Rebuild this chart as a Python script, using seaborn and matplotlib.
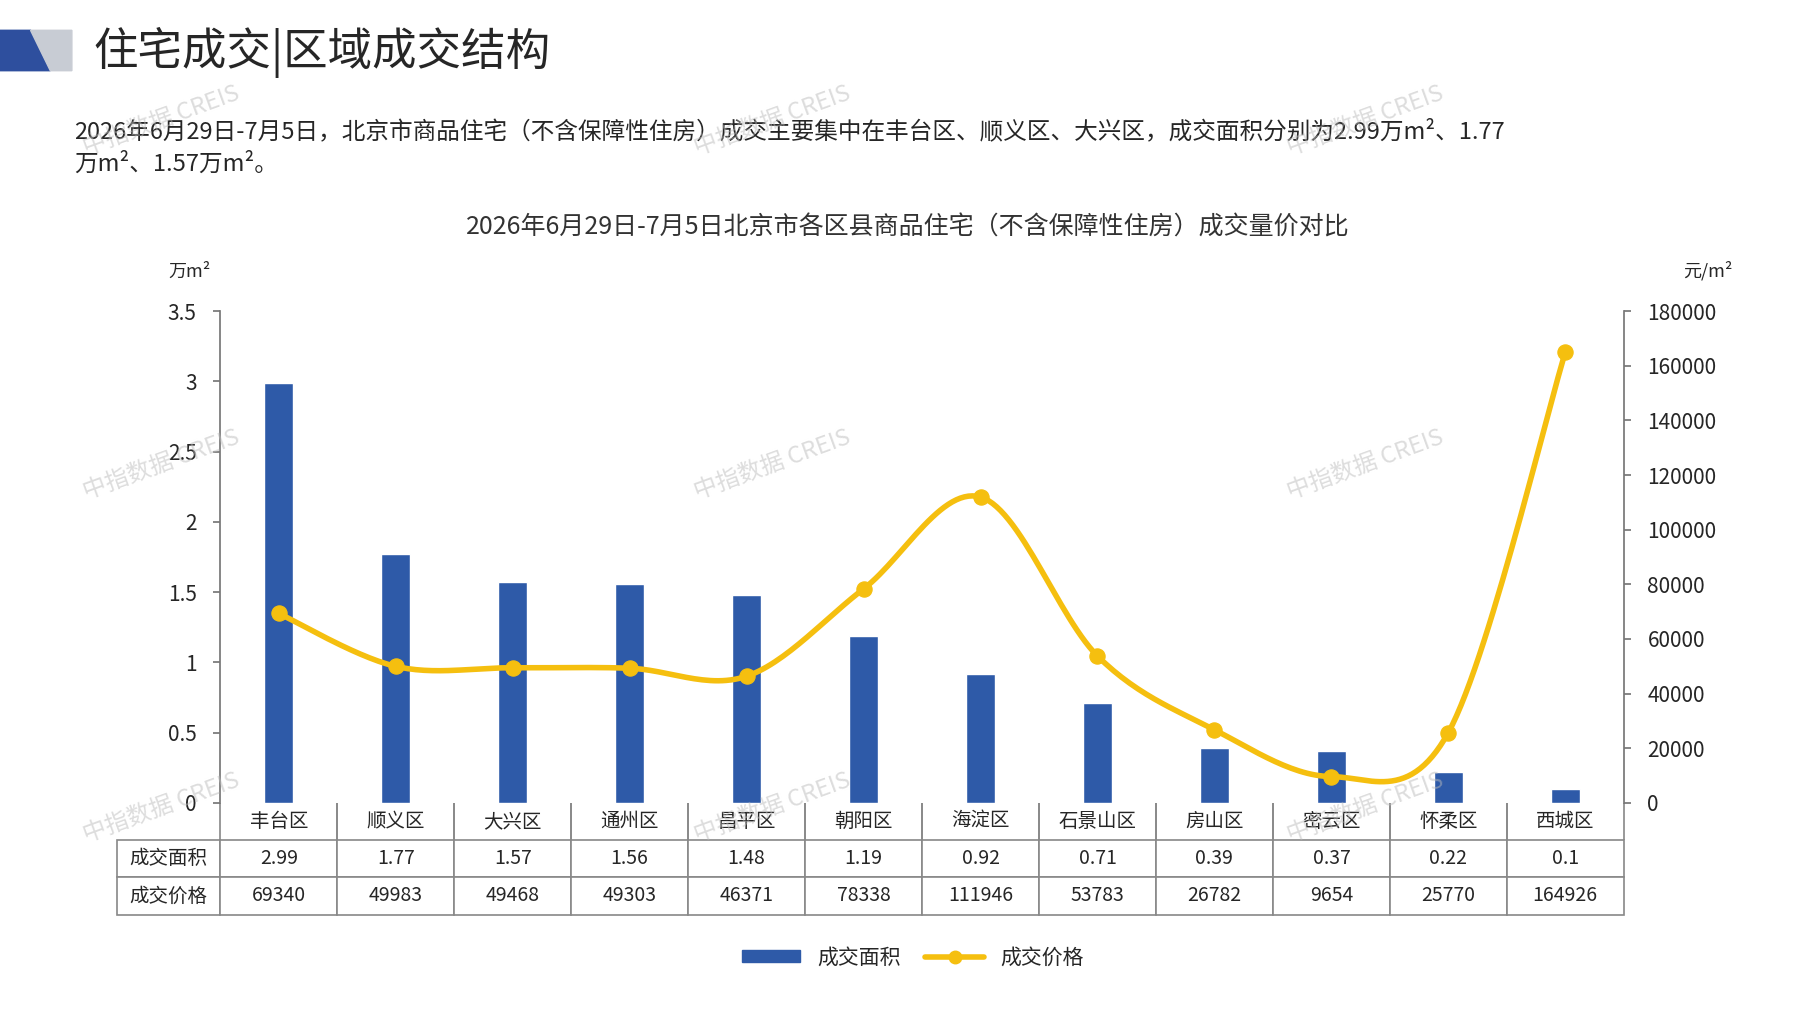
import numpy as np
import matplotlib
matplotlib.use("Agg")
import matplotlib.pyplot as plt
import seaborn as sns
from matplotlib.patches import Polygon
from matplotlib.lines import Line2D
from matplotlib.patches import Patch

districts = ['丰台区', '顺义区', '大兴区', '通州区', '昌平区', '朝阳区', '海淀区',
             '石景山区', '房山区', '密云区', '怀柔区', '西城区']
area = [2.99, 1.77, 1.57, 1.56, 1.48, 1.19, 0.92, 0.71, 0.39, 0.37, 0.22, 0.1]
area_labels = ['2.99', '1.77', '1.57', '1.56', '1.48', '1.19', '0.92', '0.71',
               '0.39', '0.37', '0.22', '0.1']
price = [69340, 49983, 49468, 49303, 46371, 78338, 111946, 53783, 26782, 9654, 25770, 164926]

sns.set_theme(style="white")
plt.rcParams['font.family'] = ['Noto Sans CJK SC', 'DejaVu Sans']

BLUE = '#2E5AA8'
GOLD = '#F5BF0F'

fig = plt.figure(figsize=(17.97, 10.10), dpi=100)
ax = fig.add_axes([0.1226, 0.205, 0.781, 0.487])

x = np.arange(len(districts))
sns.barplot(x=x, y=area, color=BLUE, width=0.25, ax=ax, saturation=1)
ax.set_ylim(0, 3.5)
ax.set_xlim(-0.5, len(districts) - 0.5)
ax.set_yticks([0, 0.5, 1, 1.5, 2, 2.5, 3, 3.5])
ax.set_yticklabels(['0', '0.5', '1', '1.5', '2', '2.5', '3', '3.5'], fontsize=15)
ax.set_xticks([])
ax.set_xlabel('')
for s in ['top', 'right', 'bottom']:
    ax.spines[s].set_visible(False)
ax.spines['left'].set_color('#777777')
ax.tick_params(axis='y', length=5, color='#777777', left=True, pad=12)

ax2 = ax.twinx()
# smooth curve through the data points (Catmull-Rom, like Excel smoothed line)
p = np.array(price, dtype=float)
xs, ys = [], []
pts = np.column_stack([x, p])
ext = np.vstack([pts[0], pts, pts[-1]])
for i in range(1, len(ext) - 2):
    p0, p1, p2, p3 = ext[i - 1], ext[i], ext[i + 1], ext[i + 2]
    t = np.linspace(0, 1, 30)[:, None]
    c = 0.5 * ((2 * p1) + (-p0 + p2) * t + (2 * p0 - 5 * p1 + 4 * p2 - p3) * t ** 2
               + (-p0 + 3 * p1 - 3 * p2 + p3) * t ** 3)
    xs.extend(c[:, 0]); ys.extend(c[:, 1])
sns.lineplot(x=xs, y=ys, color=GOLD, lw=4, ax=ax2, sort=False)
sns.scatterplot(x=x, y=p, color=GOLD, s=120, edgecolor=GOLD, ax=ax2, zorder=5)
ax2.set_ylim(0, 180000)
ax2.set_yticks(range(0, 180001, 20000))
ax2.set_yticklabels([str(v) for v in range(0, 180001, 20000)], fontsize=15)
for s in ['top', 'left', 'bottom']:
    ax2.spines[s].set_visible(False)
ax2.spines['right'].set_color('#777777')
ax2.tick_params(axis='y', length=5, color='#777777', right=True, pad=12)
ax2.set_xlim(-0.5, len(districts) - 0.5)

ax.text(-0.022, 1.07, '万m²', transform=ax.transAxes, fontsize=13, ha='center')
ax2.text(1.06, 1.07, '元/m²', transform=ax2.transAxes, fontsize=13, ha='center')

# data table
cells = [[''] + districts, ['成交面积'] + area_labels, ['成交价格'] + [str(v) for v in price]]
lab_w = 90 / 1225
widths = [lab_w] + [1 / 12] * 12
tbl = ax.table(cellText=cells, cellLoc='center', colWidths=widths,
               bbox=[-lab_w, -0.227, 1 + lab_w, 0.227])
tbl.auto_set_font_size(False)
tbl.set_fontsize(14)
for (r, c), cell in tbl.get_celld().items():
    cell.set_edgecolor('#888888')
    cell.set_linewidth(1.2)
    if r == 0:
        cell.visible_edges = 'LR' if c > 0 else ''

# titles
fig.text(0.052, 0.948, '住宅成交|区域成交结构', fontsize=32, va='center')
fig.text(0.041, 0.87, '2026年6月29日-7月5日，北京市商品住宅（不含保障性住房）成交主要集中在丰台区、顺义区、大兴区，成交面积分别为2.99万m²、1.77',
         fontsize=17, va='center')
fig.text(0.041, 0.837, '万m²、1.57万m²。', fontsize=17, va='center')
fig.text(0.505, 0.775, '2026年6月29日-7月5日北京市各区县商品住宅（不含保障性住房）成交量价对比',
         fontsize=18, ha='center', va='center', color='#333333')

# header icon
fig.patches.append(Polygon([[0.0, 0.93], [0.0, 0.97], [0.017, 0.97], [0.028, 0.93]],
                           closed=True, transform=fig.transFigure, color='#2E4F9E'))
fig.patches.append(Polygon([[0.017, 0.97], [0.028, 0.93], [0.04, 0.93], [0.04, 0.97]],
                           closed=True, transform=fig.transFigure, color='#C8CCD4'))

# watermarks
for wx in [0.09, 0.43, 0.76]:
    for wy in [0.88, 0.54, 0.2]:
        fig.text(wx, wy, '中指数据 CREIS', fontsize=17, color='#BBBBBB', alpha=0.5,
                 rotation=20, ha='center', va='center')

handles = [Patch(color=BLUE, label='成交面积'),
           Line2D([0], [0], color=GOLD, lw=4, marker='o', ms=9, label='成交价格')]
fig.legend(handles=handles, loc='center', bbox_to_anchor=(0.508, 0.052), ncol=2,
           frameon=False, fontsize=15, handlelength=2.8, columnspacing=1.2,
           handleheight=0.5)

fig.savefig('out.png', dpi=100)
